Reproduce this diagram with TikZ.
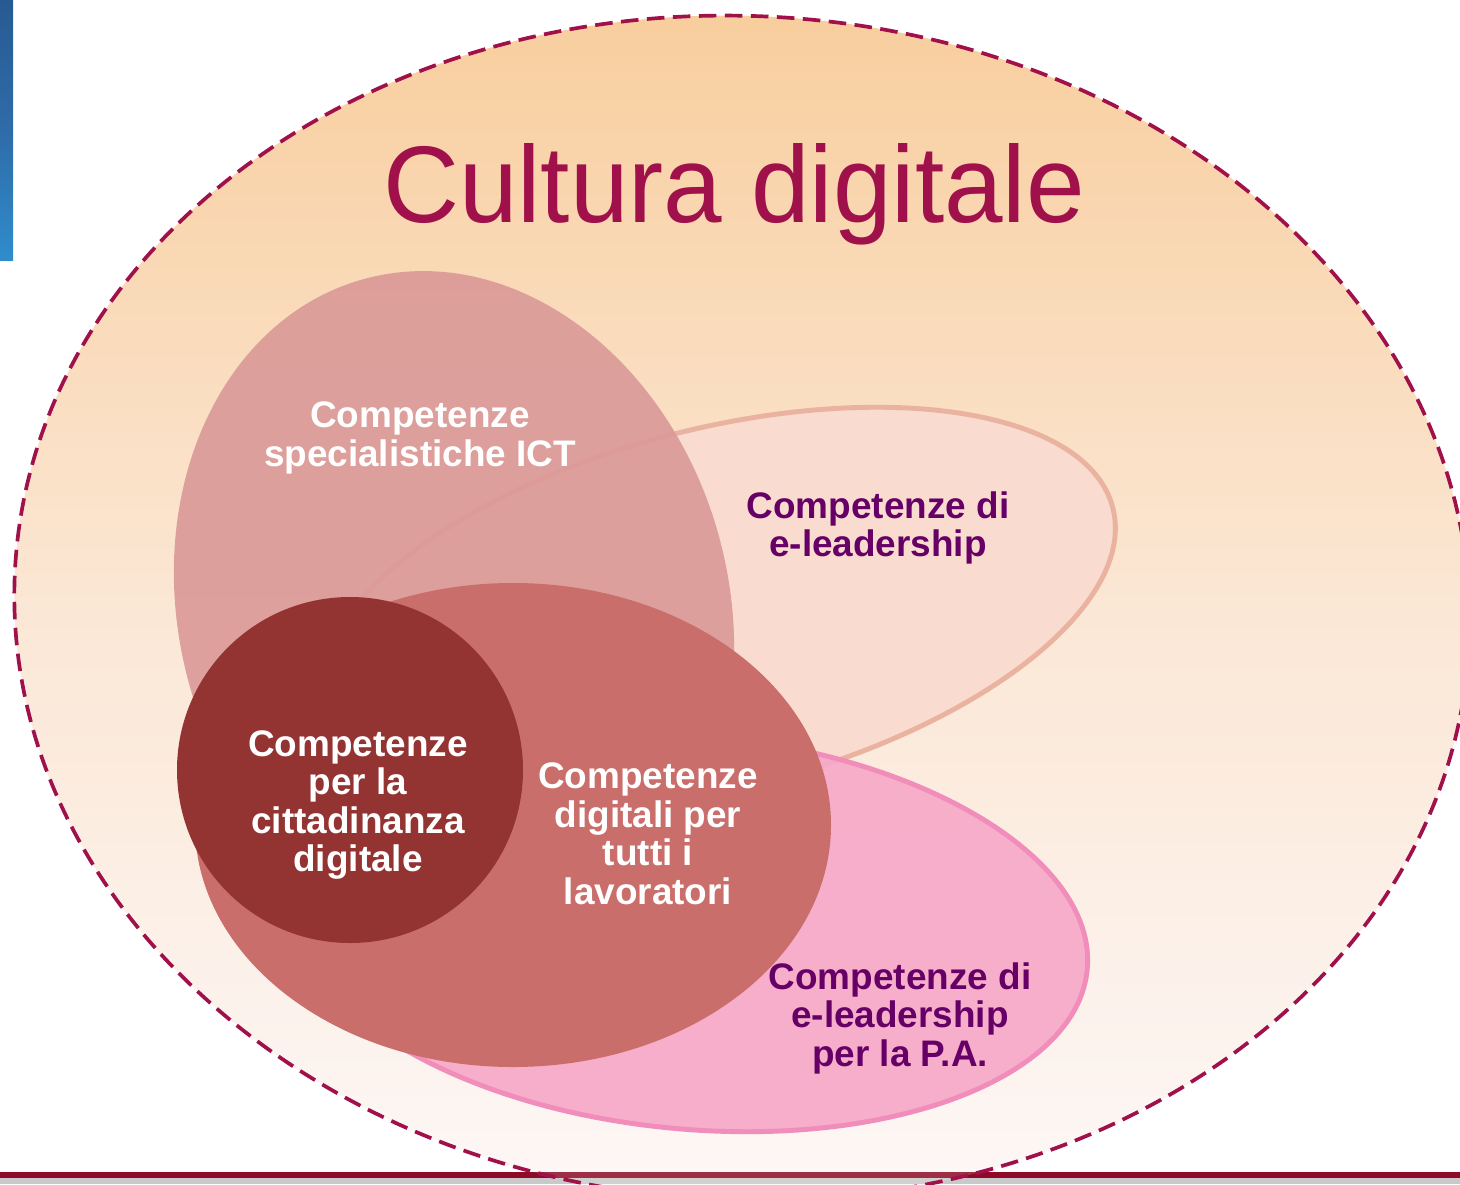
\documentclass[tikz,border=0pt]{standalone}
\usepackage{fontspec}
\setmainfont{Liberation Sans}
\usepackage{graphicx}

\definecolor{culturared}{HTML}{A0104A}
\definecolor{culturatop}{HTML}{F8CD9C}
\definecolor{culturamid}{HTML}{FBE7D5}
\definecolor{culturabot}{HTML}{FDF8F8}
\definecolor{stripdark}{HTML}{285A92}
\definecolor{stripmid}{HTML}{2E6CA8}
\definecolor{striplight}{HTML}{2F8CCB}
\definecolor{rulered}{HTML}{8E0A26}
\definecolor{rulegrey}{HTML}{C9C9C9}
\definecolor{eleadfill}{HTML}{F9DBCF}
\definecolor{eleadline}{HTML}{E9B3A0}
\definecolor{pafill}{HTML}{F6A9C8}
\definecolor{paline}{HTML}{F18DBA}
\definecolor{ictfill}{HTML}{DB9A98}
\definecolor{workfill}{HTML}{C96E6A}
\definecolor{citfill}{HTML}{933433}
\definecolor{labelpurple}{HTML}{660066}

\tikzset{
  whitelabel/.style={text=white, align=center, font={\fontsize{10.5}{10.95}\selectfont\bfseries}},
  purplelabel/.style={text=labelpurple, align=center, font={\fontsize{10.5}{10.95}\selectfont\bfseries}}
}

\begin{document}
\begin{tikzpicture}[x=0.01cm, y=-0.01cm]
    \useasboundingbox (0,0) rectangle (1460,1184);
    \clip (0,0) rectangle (1460,1184);

    % Blue strip at the left edge
    \shade[top color=stripdark, bottom color=striplight, middle color=stripmid] (0,0) rectangle (13,260);

    % Background ellipse
    \shade[top color=culturatop, bottom color=culturabot, middle color=culturamid, rotate around={-3:(742,608)}] (742,608) ellipse (728 and 592);

    % Bottom rule
    \fill[rulered] (0,1172) rectangle (1460,1178);
    \fill[rulegrey] (0,1178) rectangle (1460,1184);
    \begin{scope}
        \clip[rotate around={-3:(742,608)}] (742,608) ellipse (728 and 592);
        \fill[white, opacity=0.15] (0,1172) rectangle (1460,1184);
    \end{scope}

    % e-leadership area
    \filldraw[fill=eleadfill, draw=eleadline, line width=1.4pt, rotate around={14.3:(717.5,608.7)}] (717.5,608.7) ellipse (408 and 180);

    % e-leadership P.A. area
    \filldraw[fill=pafill, fill opacity=0.92, draw=paline, line width=1.4pt, rotate around={-5.4:(690,932)}] (690,932) ellipse (399 and 197);

    % ICT specialists
    \fill[ictfill, fill opacity=0.92, rotate around={15:(454,610)}] (454,610) ellipse (275 and 343);

    % All workers
    \fill[workfill] (513,825) ellipse (318 and 242);

    % Citizens
    \fill[citfill] (350,770) circle (173);

    % Dashed frame
    \draw[culturared, line width=1.05pt, dash pattern=on 5pt off 2.4pt, rotate around={-3:(742,608)}] (742,608) ellipse (728 and 592);

    % Texts
    \node[text=culturared, anchor=base, font={\fontsize{31}{36}\selectfont}] (title) at (734,222) {\scalebox{0.965}[1]{Cultura digitale}};
    \node[whitelabel] (ict) at (420,438) {Competenze\\specialistiche ICT};
    \node[purplelabel] (eleader) at (878,528) {Competenze di\\e-leadership};
    \node[whitelabel] (citizens) at (358,805) {Competenze\\per la\\cittadinanza\\digitale};
    \node[whitelabel] (workers) at (648,834) {Competenze\\digitali per\\tutti i\\lavoratori};
    \node[purplelabel] (eleaderpa) at (900,1018) {Competenze di\\e-leadership\\per la P.A.};
\end{tikzpicture}
\end{document}
